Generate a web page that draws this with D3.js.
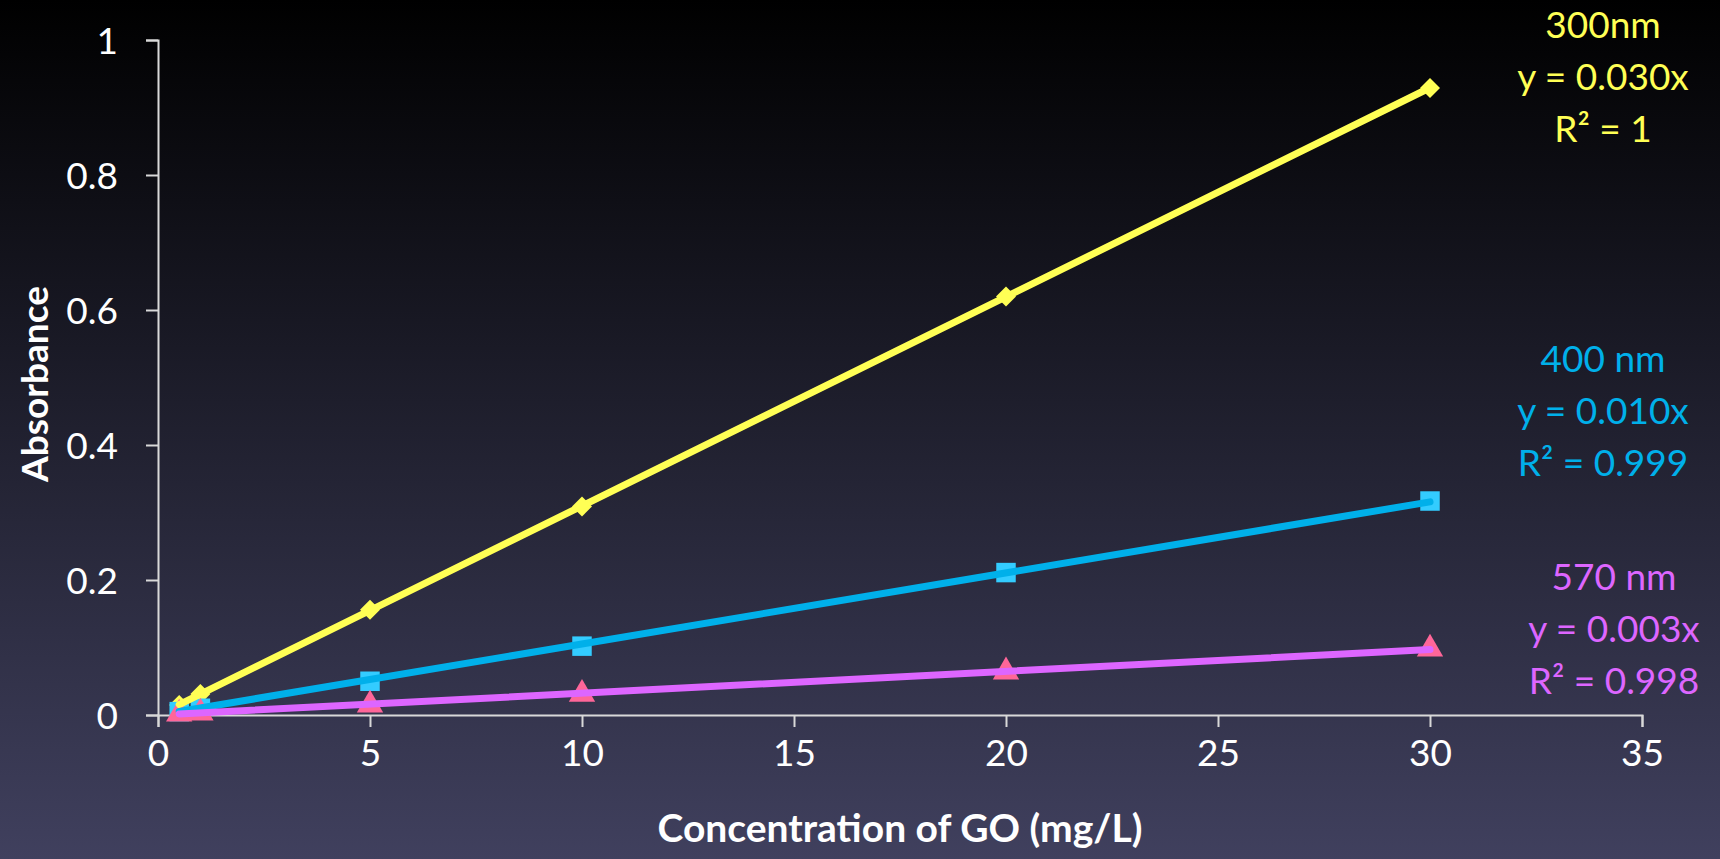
<!DOCTYPE html>
<html>
<head>
<meta charset="utf-8">
<script src="https://cdn.jsdelivr.net/npm/d3@7"></script>
<style>
  html, body { margin: 0; padding: 0; background: #000; }
  svg { display: block; }
  text { font-family: Lato, "Open Sans", sans-serif; }
</style>
</head>
<body>
<svg id="chart" width="1720" height="859"></svg>
<script>
// concentration of GO (mg/L)
const concentrations = [0.5, 1, 5, 10, 20, 30];

// absorbance
const abs300 = [0.015, 0.031, 0.156, 0.309, 0.620, 0.929];
const abs400 = [0.005, 0.010, 0.050, 0.102, 0.211, 0.317];
const abs570 = [0.0015, 0.003, 0.015, 0.031, 0.064, 0.098];

const seriesNames = ["300nm", "400 nm", "570 nm"];
const equations = ["y = 0.030x", "y = 0.010x", "y = 0.003x"];
const rSquared = ["R² = 1", "R² = 0.999", "R² = 0.998"];

const xTicks = [0, 5, 10, 15, 20, 25, 30, 35];
const yTicks = [0, 0.2, 0.4, 0.6, 0.8, 1];

const W = 1720, H = 859;
const svg = d3.select("#chart");

// background gradient
const defs = svg.append("defs");
const grad = defs.append("linearGradient")
  .attr("id", "bg").attr("x1", 0).attr("y1", 0).attr("x2", 0).attr("y2", 1);
grad.append("stop").attr("offset", "0%").attr("stop-color", "#000000");
grad.append("stop").attr("offset", "100%").attr("stop-color", "#40405e");
svg.append("rect").attr("width", W).attr("height", H).attr("fill", "url(#bg)");

const x = d3.scaleLinear().domain([0, 35]).range([158, 1642]);
const y = d3.scaleLinear().domain([0, 1]).range([715, 40]);

const axisColor = "#d9d9d9";

const xAxis = svg.append("g")
  .attr("transform", `translate(0, ${y(0)})`)
  .call(d3.axisBottom(x).tickValues(xTicks).tickFormat(d3.format("d")).tickSize(12).tickPadding(13));
const yAxis = svg.append("g")
  .attr("transform", `translate(${x(0)}, 0)`)
  .call(d3.axisLeft(y).tickValues(yTicks).tickFormat(d => d === 0 || d === 1 ? String(d) : d.toFixed(1)).tickSize(12).tickPadding(28));

[xAxis, yAxis].forEach(g => {
  g.select(".domain").attr("stroke", axisColor).attr("stroke-width", 2);
  g.selectAll(".tick line").attr("stroke", axisColor).attr("stroke-width", 2);
  g.selectAll(".tick text").attr("fill", "#ffffff").style("font-size", "37px")
    .style("font-family", "Lato, 'Open Sans', sans-serif");
});
yAxis.selectAll(".tick text").attr("dy", "0.36em");

// axis titles
svg.append("text")
  .attr("x", 900).attr("y", 842)
  .attr("text-anchor", "middle")
  .attr("fill", "#ffffff")
  .style("font-size", "39px").style("font-weight", "bold")
  .text("Concentration of GO (mg/L)");

svg.append("text")
  .attr("transform", "translate(48, 384) rotate(-90)")
  .attr("text-anchor", "middle")
  .attr("fill", "#ffffff")
  .style("font-size", "37px").style("font-weight", "bold")
  .text("Absorbance");

const diamond = {
  draw(ctx, size) {
    const r = Math.sqrt(size) / 2 * Math.SQRT2;
    ctx.moveTo(0, -r); ctx.lineTo(r, 0); ctx.lineTo(0, r); ctx.lineTo(-r, 0); ctx.closePath();
  }
};

const series = [
  { name: seriesNames[0], values: abs300, line: "#ffff55", marker: "#ffff55", shape: diamond, size: 200 },
  { name: seriesNames[1], values: abs400, line: "#00b0ea", marker: "#33ccff", shape: d3.symbolSquare, size: 380 },
  { name: seriesNames[2], values: abs570, line: "#dd66ff", marker: "#ff6699", shape: d3.symbolTriangle, size: 300 }
];

// markers
series.forEach(s => {
  svg.append("g").selectAll("path")
    .data(concentrations.map((c, i) => [c, s.values[i]]))
    .join("path")
    .attr("transform", d => `translate(${x(d[0])}, ${y(d[1])})`)
    .attr("d", d3.symbol().type(s.shape).size(s.size))
    .attr("fill", s.marker);
});

// linear trendlines through the origin, fitted to the data
const line = d3.line().x(d => x(d[0])).y(d => y(d[1]));
series.forEach(s => {
  const sxy = d3.sum(concentrations, (c, i) => c * s.values[i]);
  const sxx = d3.sum(concentrations, c => c * c);
  const k = sxy / sxx;
  const ends = d3.extent(concentrations).map(c => [c, k * c]);
  svg.append("path")
    .attr("d", line(ends))
    .attr("fill", "none")
    .attr("stroke", s.line)
    .attr("stroke-width", 7)
    .attr("stroke-linecap", "round");
});

// trendline labels
const labelPos = [
  { cx: 1603, base: 38 },
  { cx: 1603, base: 372 },
  { cx: 1614, base: 590 }
];
series.forEach((s, i) => {
  const g = svg.append("g").attr("fill", s.line)
    .attr("text-anchor", "middle").style("font-size", "37px");
  [s.name, equations[i], rSquared[i]].forEach((t, j) => {
    g.append("text").attr("x", labelPos[i].cx).attr("y", labelPos[i].base + j * 52).text(t);
  });
});
</script>
</body>
</html>
